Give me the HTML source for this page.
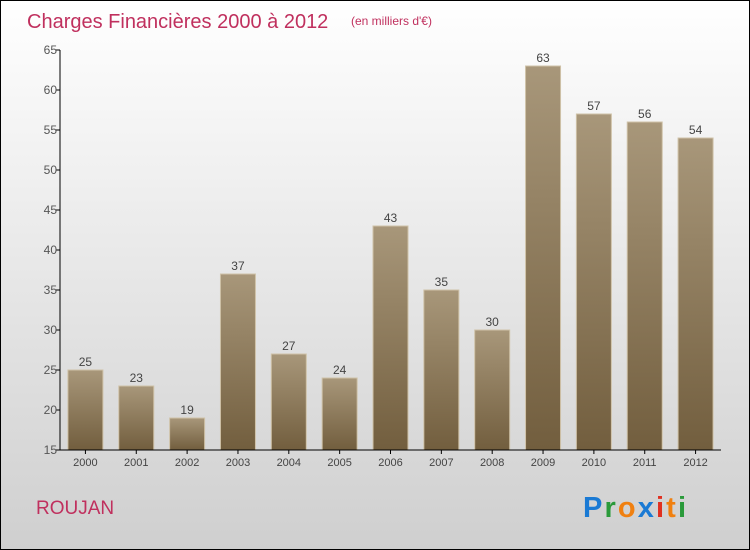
<!DOCTYPE html>
<html><head><meta charset="utf-8"><style>
body{margin:0}
#c{width:750px;height:550px;position:relative;overflow:hidden}
</style></head><body>
<div id="c">
<svg id="s" width="750" height="550" xmlns="http://www.w3.org/2000/svg" font-family="Liberation Sans, sans-serif">
<defs>
<linearGradient id="bg" x1="0" y1="0" x2="0" y2="1"><stop offset="0" stop-color="#ffffff"/><stop offset="1" stop-color="#cfcfcf"/></linearGradient>
<linearGradient id="bar" x1="0" y1="0" x2="0" y2="1"><stop offset="0" stop-color="#a8977a"/><stop offset="1" stop-color="#725e3e"/></linearGradient>
</defs>
<rect x="0.5" y="0.5" width="749" height="549" fill="url(#bg)" stroke="#000"/>
<text x="27" y="28" font-size="20" fill="#c0305e">Charges Financières 2000 à 2012</text>
<text x="351" y="25" font-size="12" fill="#c0305e">(en milliers d'€)</text>
<text x="36" y="514" font-size="19" fill="#c0305e">ROUJAN</text>
<g font-size="29" font-weight="bold">
<text x="583" y="517" textLength="103"><tspan fill="#1a7ad4">P</tspan><tspan fill="#2a9a3a">r</tspan><tspan fill="#f08010">o</tspan><tspan fill="#1a7ad4">x</tspan><tspan fill="#e03020">i</tspan><tspan fill="#f08010">t</tspan><tspan fill="#2a9a3a">i</tspan></text>
</g>
<g id="plot"></g>
</svg>
</div>
<script>
const categories=["2000","2001","2002","2003","2004","2005","2006","2007","2008","2009","2010","2011","2012"];
const values=[25,23,19,37,27,24,43,35,30,63,57,56,54];
const yTicks=[15,20,25,30,35,40,45,50,55,60,65];
const NS="http://www.w3.org/2000/svg";
const g=document.getElementById('plot');
const x0=60,x1=721,yMin=15,yMax=65,yTop=50,yBot=450;
const band=(x1-x0)/categories.length;
const y=v=>yBot-(v-yMin)/(yMax-yMin)*(yBot-yTop);
const xc=i=>x0+band*(i+0.5);
function mk(t,a){const e=document.createElementNS(NS,t);for(const k in a)e.setAttribute(k,a[k]);g.appendChild(e);return e;}
values.forEach((v,i)=>{
 const r=mk('rect',{x:xc(i)-17.5,y:y(v),width:35,height:yBot-y(v),fill:'url(#bar)',stroke:'#cfc2a8','stroke-width':1});
 
 
 const t=mk('text',{x:xc(i),y:y(v)-4,'font-size':12,fill:'#444','text-anchor':'middle'});
 t.textContent=v;
 
 
 const xl=mk('text',{x:xc(i),y:466,'font-size':11,fill:'#444','text-anchor':'middle'});
 xl.textContent=categories[i];
 
 
 mk('line',{x1:xc(i),x2:xc(i),y1:yBot,y2:yBot+4,stroke:'#000'});
});
yTicks.forEach(v=>{
 mk('line',{x1:x0-4,x2:x0,y1:y(v),y2:y(v),stroke:'#000'});
 const t=mk('text',{x:x0-3,y:y(v)+4,'font-size':12,fill:'#555','text-anchor':'end'});
 t.textContent=v;
 
 
});
const ya=mk('line',{x1:x0,x2:x0,y1:yTop,y2:yBot,stroke:'#000'});


const xa=mk('line',{x1:x0,x2:x1,y1:yBot,y2:yBot,stroke:'#000'});


</script>
</body></html>
